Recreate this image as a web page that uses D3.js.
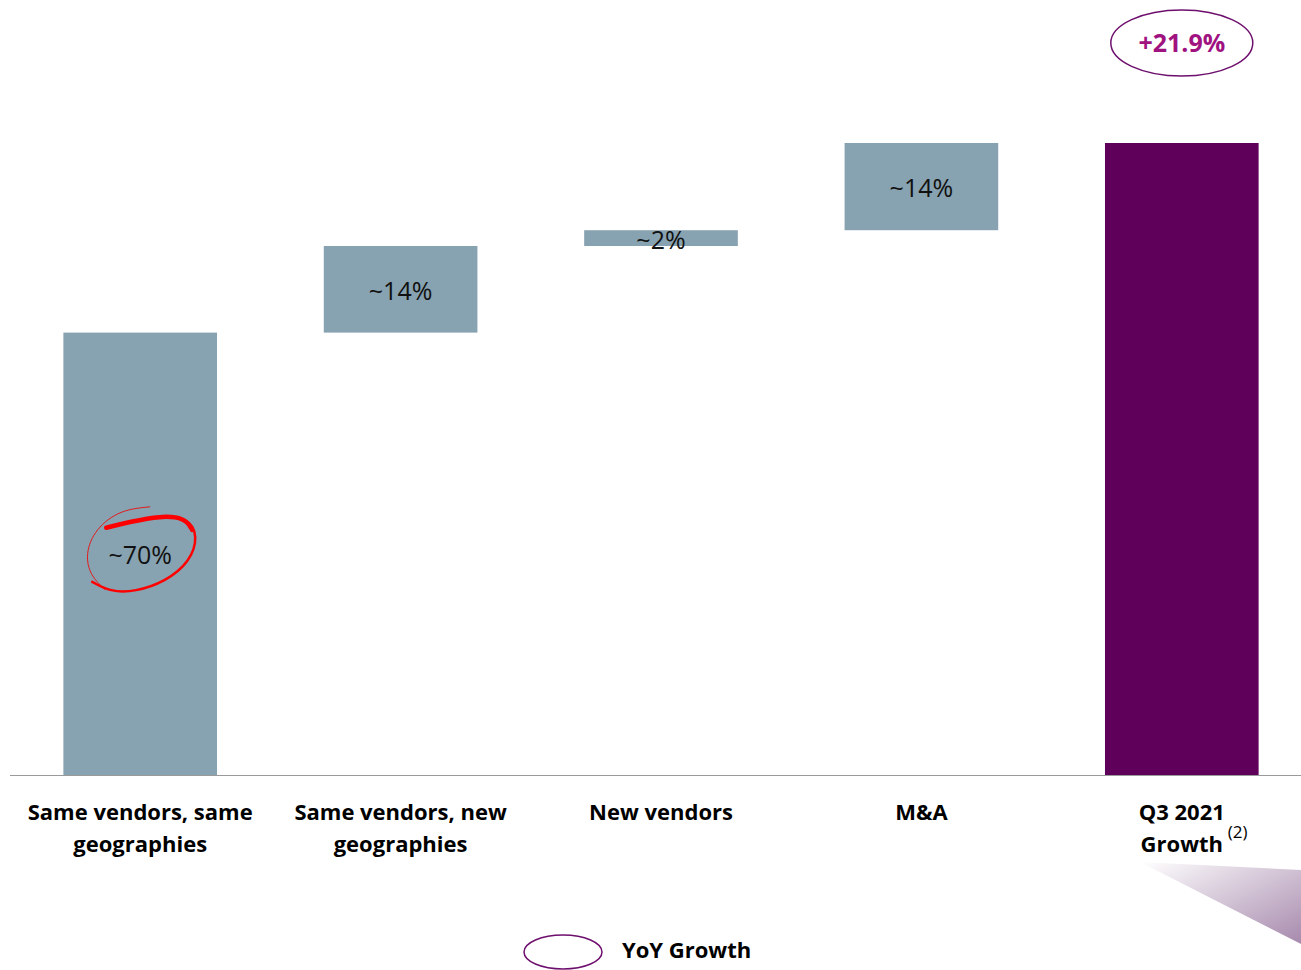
<!DOCTYPE html>
<html>
<head>
<meta charset="utf-8">
<script src="https://cdn.jsdelivr.net/npm/d3@7"></script>
<style>
  body { margin: 0; background: #fff; }
  svg { display: block; font-family: "Open Sans", "Noto Sans", sans-serif; }
</style>
</head>
<body>
<div id="chart"></div>
<script>
// categories (line breaks as in the picture)
const categories = [
    ["Same vendors, same", "geographies"],
    ["Same vendors, new", "geographies"],
    ["New vendors"],
    ["M&A"],
    ["Q3 2021", "Growth"]
];
// share of growth, %, stacked as a waterfall
const steps = [70, 13.7, 2.5, 13.8];
const stepLabels = ["~70%", "~14%", "~2%", "~14%"];
const totalValue = 100;
const totalLabel = "+21.9%";
const legendLabel = "YoY Growth";

const W = 1301, H = 970;
const svg = d3.select("#chart").append("svg")
    .attr("width", W)
    .attr("height", H);

// scales
const x = d3.scaleBand()
    .domain(d3.range(categories.length))
    .range([10, 1312])
    .paddingInner(0.41)
    .paddingOuter(0.205);

const y = d3.scaleLinear()
    .domain([0, totalValue])
    .range([775, 143]);

// waterfall rows
let run = 0;
const rows = steps.map(function(v, i) {
    let r = {i: i, start: run, end: run + v, label: stepLabels[i], total: false};
    run += v;
    return r;
});
rows.push({i: steps.length, start: 0, end: totalValue, label: null, total: true});

// bars
svg.append("g").attr("id", "bars")
    .selectAll("rect")
    .data(rows)
    .enter().append("rect")
    .attr("x", d => x(d.i))
    .attr("width", x.bandwidth())
    .attr("y", d => y(d.end))
    .attr("height", d => y(d.start) - y(d.end))
    .attr("fill", d => d.total ? "#5f005b" : "#87a2b0");

// value labels
svg.append("g").attr("id", "values")
    .selectAll("text")
    .data(rows.filter(d => d.label))
    .enter().append("text")
    .attr("x", d => x(d.i) + x.bandwidth() / 2)
    .attr("y", d => (y(d.start) + y(d.end)) / 2 + 4)
    .attr("text-anchor", "middle")
    .attr("dominant-baseline", "middle")
    .attr("font-size", 25)
    .attr("fill", "#111")
    .text(d => d.label);

// baseline
svg.append("line")
    .attr("x1", 10).attr("x2", W)
    .attr("y1", y(0) + 0.5).attr("y2", y(0) + 0.5)
    .attr("stroke", "#9a9a9a")
    .attr("stroke-width", 1.2);

// category labels
const cat = svg.append("g").attr("id", "categories")
    .selectAll("text")
    .data(categories)
    .enter().append("text")
    .attr("x", (d, i) => x(i) + x.bandwidth() / 2)
    .attr("y", 820)
    .attr("text-anchor", "middle")
    .attr("font-size", 22)
    .attr("font-weight", "bold")
    .attr("fill", "#000");

cat.each(function(d) {
    let t = d3.select(this);
    d.forEach(function(line, k) {
        t.append("tspan")
            .attr("x", t.attr("x"))
            .attr("dy", k === 0 ? 0 : 32)
            .text(line);
    });
});

// footnote marker on the total label
let lastCx = x(categories.length - 1) + x.bandwidth() / 2;
svg.append("text")
    .attr("x", lastCx + 46)
    .attr("y", 838)
    .attr("font-size", 17)
    .attr("fill", "#000")
    .text("(2)");

// total ellipse callout
let totalY = y(totalValue) - 100;
svg.append("ellipse")
    .attr("cx", lastCx).attr("cy", totalY)
    .attr("rx", 71).attr("ry", 33)
    .attr("fill", "none")
    .attr("stroke", "#6e0f6e")
    .attr("stroke-width", 1.5);
svg.append("text")
    .attr("x", lastCx)
    .attr("y", totalY + 2)
    .attr("text-anchor", "middle")
    .attr("dominant-baseline", "middle")
    .attr("font-size", 25)
    .attr("font-weight", "bold")
    .attr("fill", "#a0127f")
    .text(totalLabel);

// hand drawn red ring around the first label
let c0x = x(0) + x.bandwidth() / 2, c0y = (y(rows[0].start) + y(rows[0].end)) / 2;
let ring = [
    [10, -47], [-20, -44], [-45, -25], [-55, 0], [-50, 22], [-35, 36]
];
svg.append("path")
    .attr("d", d3.line().curve(d3.curveBasis)(ring.map(p => [c0x + p[0], c0y + p[1]])))
    .attr("fill", "none")
    .attr("stroke", "#e21b1b")
    .attr("stroke-width", 1);
let ring2 = [
    [-48, 28], [-30, 38], [-5, 38], [25, 28], [50, 8], [58, -18], [48, -36], [20, -38], [-10, -32], [-34, -26]
];
svg.append("path")
    .attr("d", d3.line().curve(d3.curveBasis)(ring2.map(p => [c0x + p[0], c0y + p[1]])))
    .attr("fill", "none")
    .attr("stroke", "#ff0000")
    .attr("stroke-width", 2.5)
    .attr("stroke-linecap", "round");
let thick = [
    [52, -24], [45, -36], [20, -38], [-10, -32], [-34, -26]
];
svg.append("path")
    .attr("d", d3.line().curve(d3.curveBasis)(thick.map(p => [c0x + p[0], c0y + p[1]])))
    .attr("fill", "none")
    .attr("stroke", "#ff0000")
    .attr("stroke-width", 4.5)
    .attr("stroke-linecap", "round");

// decorative gradient wedge in the corner
let defs = svg.append("defs");
let grad = defs.append("linearGradient")
    .attr("id", "wedge")
    .attr("x1", "0%").attr("y1", "0%")
    .attr("x2", "100%").attr("y2", "100%");
grad.append("stop").attr("offset", "0%").attr("stop-color", "#ffffff");
grad.append("stop").attr("offset", "100%").attr("stop-color", "#a78aad");
svg.append("path")
    .attr("d", "M1140,862 L1301,870 L1301,944 Z")
    .attr("fill", "url(#wedge)");

// legend
svg.append("ellipse")
    .attr("cx", 563).attr("cy", 952)
    .attr("rx", 39).attr("ry", 17)
    .attr("fill", "none")
    .attr("stroke", "#6e0f6e")
    .attr("stroke-width", 1.5);
svg.append("text")
    .attr("x", 622)
    .attr("y", 952)
    .attr("dominant-baseline", "middle")
    .attr("font-size", 22)
    .attr("font-weight", "bold")
    .attr("fill", "#000")
    .text(legendLabel);
</script>
</body>
</html>
